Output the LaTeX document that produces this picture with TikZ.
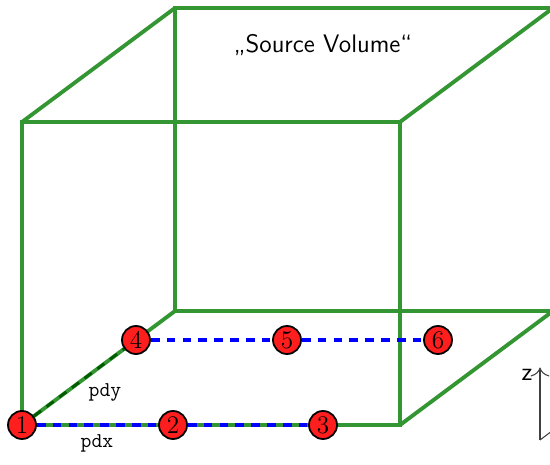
\documentclass[tikz,border=0pt]{standalone}
\usepackage{tikz}
\usetikzlibrary{arrows.meta,calc}
\definecolor{volGreen}{RGB}{52,150,50}
\definecolor{volDark}{RGB}{0,90,0}
\definecolor{padRed}{RGB}{255,30,30}

\begin{document}
\begin{tikzpicture}[
      edge/.style={volGreen,line width=2.2pt},
      pitch/.style={blue,line width=2.2pt,dash pattern=on 5pt off 4pt},
      pitchy/.style={volDark,line width=1.6pt,dash pattern=on 5pt off 4pt},
      pad/.style={circle,draw=black,fill=padRed,line width=1pt,minimum size=0.56cm,
                  inner sep=0pt,font=\Large},
      lbl/.style={font=\ttfamily\large},
      axis/.style={-{To[length=1.8mm]},black!75,line width=0.6pt}]
    \useasboundingbox (0,0) rectangle (11,9.3);

    % ---------- source volume ----------
    \coordinate (fbl) at (0.44,0.8);
    \coordinate (fbr) at (8.0,0.8);
    \coordinate (ftl) at (0.44,6.86);
    \coordinate (ftr) at (8.0,6.86);
    \foreach \c in {fbl,fbr,ftl,ftr} \coordinate (b\c) at ($(\c)+(3.06,2.28)$);
    \draw[edge] (fbl) -- (fbr) -- (ftr) -- (ftl) -- cycle;
    \draw[edge] (bfbr) -- (bfbl) -- (bftl) -- (bftr) -- (bfbr);
    \foreach \c in {fbl,fbr,ftl,ftr} \draw[edge] (\c) -- (b\c);
    \node[font=\sffamily\Large] (title) at (6.46,8.4) {„Source Volume“};

    % ---------- pads ----------
    \node[pad] (p1) at (0.44,0.8) {1};
    \node[pad] (p2) at (3.46,0.8) {2};
    \node[pad] (p3) at (6.46,0.8) {3};
    \node[pad] (p4) at (2.72,2.5) {4};
    \node[pad] (p5) at (5.74,2.5) {5};
    \node[pad] (p6) at (8.76,2.5) {6};
    \draw[pitch]  (p1) -- (p2);
    \draw[pitch]  (p2) -- (p3);
    \draw[pitch]  (p4) -- (p5);
    \draw[pitch]  (p5) -- (p6);
    \draw[pitchy] (p1) -- (p4);
    \node[lbl] (pdx) at (1.94,0.44) {pdx};
    \node[lbl] (pdy) at (2.1,1.46) {pdy};

    % ---------- axes ----------
    \coordinate (o) at (10.8,0.5);
    \draw[axis] (o) -- ++(0,1.45) coordinate (zt);
    \draw[axis] (o) -- ++(1.2,0.9);
    \node[font=\sffamily\Large,anchor=east] (zl) at ($(zt)+(-0.03,-0.15)$) {z};
  \end{tikzpicture}
\end{document}
